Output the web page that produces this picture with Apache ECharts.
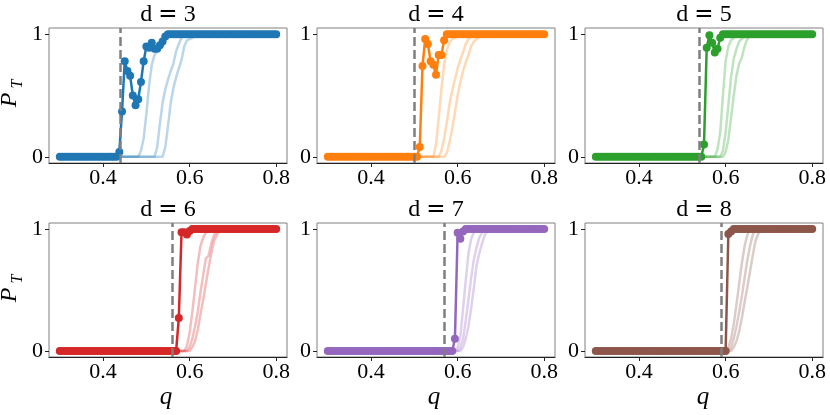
<!DOCTYPE html>
<html><head><meta charset="utf-8">
<script src="https://cdn.jsdelivr.net/npm/echarts@6/dist/echarts.min.js"></script>
<style>html,body{margin:0;padding:0;background:#fff}#c{width:830px;height:415px}</style>
</head><body><div id="c"></div>
<script>
// ---- data ----
const qGrid = [0.3,0.30625,0.3125,0.31875,0.325,0.33125,0.3375,0.34375,0.35,0.35625,
 0.3625,0.36875,0.375,0.38125,0.3875,0.39375,0.4,0.40625,0.4125,0.41875,
 0.425,0.43125,0.4375,0.44375,0.45,0.45625,0.4625,0.46875,0.475,0.48125,
 0.4875,0.49375,0.5,0.50625,0.5125,0.51875,0.525,0.53125,0.5375,0.54375,
 0.55,0.55625,0.5625,0.56875,0.575,0.58125,0.5875,0.59375,0.6,0.60625,
 0.6125,0.61875,0.625,0.63125,0.6375,0.64375,0.65,0.65625,0.6625,0.66875,
 0.675,0.68125,0.6875,0.69375,0.7,0.70625,0.7125,0.71875,0.725,0.73125,
 0.7375,0.74375,0.75,0.75625,0.7625,0.76875,0.775,0.78125,0.7875,0.79375,0.8];

const dValues = ['3','4','5','6','7','8'];
const xTicks = [0.4, 0.6, 0.8];
const yTicks = [0, 1];
const thresholds = [0.442, 0.5, 0.5365, 0.556, 0.5728, 0.5868];

const mainD3 = [0,0,0,0,0,0,0,0,0,0, 0,0,0,0,0,0,0,0,0,0,
 0,0,0.04,0.37,0.78,0.70,0.66,0.50,0.42,0.47,
 0.61,0.78,0.90,0.89,0.93,0.88,0.88,0.91,0.94,0.98,
 1,1,1,1,1,1,1,1,1,1, 1,1,1,1,1,1,1,1,1,1, 1,1,1,1,1,1,1,1,1,1, 1,1,1,1,1,1,1,1,1,1, 1];
const mainD4 = [0,0,0,0,0,0,0,0,0,0, 0,0,0,0,0,0,0,0,0,0, 0,0,0,0,0,0,0,0,0,0,
 0,0,0,0,0.08,0.74,0.96,0.92,0.78,0.75,
 0.67,0.83,0.83,0.95,1,1,1,1,1,1,
 1,1,1,1,1,1,1,1,1,1, 1,1,1,1,1,1,1,1,1,1, 1,1,1,1,1,1,1,1,1,1, 1];
const mainD5 = [0,0,0,0,0,0,0,0,0,0, 0,0,0,0,0,0,0,0,0,0, 0,0,0,0,0,0,0,0,0,0, 0,0,0,0,0,0,0,0,0,0,
 0.10,0.89,0.99,0.93,0.85,0.88,0.97,1,1,1,
 1,1,1,1,1,1,1,1,1,1, 1,1,1,1,1,1,1,1,1,1, 1,1,1,1,1,1,1,1,1,1, 1];
const mainD6 = [0,0,0,0,0,0,0,0,0,0, 0,0,0,0,0,0,0,0,0,0, 0,0,0,0,0,0,0,0,0,0, 0,0,0,0,0,0,0,0,0,0,
 0,0,0,0,0.27,0.975,0.975,0.955,0.985,1,
 1,1,1,1,1,1,1,1,1,1, 1,1,1,1,1,1,1,1,1,1, 1,1,1,1,1,1,1,1,1,1, 1];
const mainD7 = [0,0,0,0,0,0,0,0,0,0, 0,0,0,0,0,0,0,0,0,0, 0,0,0,0,0,0,0,0,0,0, 0,0,0,0,0,0,0,0,0,0,
 0,0,0,0,0,0,0,0.10,0.97,0.92,
 0.98,1,1,1,1,1,1,1,1,1, 1,1,1,1,1,1,1,1,1,1, 1,1,1,1,1,1,1,1,1,1, 1];
const mainD8 = [0,0,0,0,0,0,0,0,0,0, 0,0,0,0,0,0,0,0,0,0, 0,0,0,0,0,0,0,0,0,0, 0,0,0,0,0,0,0,0,0,0,
 0,0,0,0,0,0,0,0,0,0.96,
 0.98,1,1,1,1,1,1,1,1,1, 1,1,1,1,1,1,1,1,1,1, 1,1,1,1,1,1,1,1,1,1, 1];

const fadedD3a = [[0.3,0],[0.48125,0],[0.4875,0.05],[0.49375,0.15],[0.5,0.35],[0.50625,0.58],[0.5125,0.75],[0.51875,0.83],[0.525,0.86],[0.53125,0.89],[0.5375,0.93],[0.54375,0.96],[0.55,0.99],[0.55625,1],[0.8,1]];
const fadedD3b = [[0.3,0],[0.51875,0],[0.525,0.08],[0.53125,0.27],[0.5375,0.44],[0.54375,0.55],[0.55,0.63],[0.55625,0.70],[0.5625,0.76],[0.56875,0.86],[0.575,0.92],[0.58125,0.97],[0.5875,0.99],[0.59375,1],[0.8,1]];
const fadedD3c = [[0.3,0],[0.5375,0],[0.54375,0.08],[0.55,0.25],[0.55625,0.44],[0.5625,0.56],[0.56875,0.65],[0.575,0.72],[0.58125,0.79],[0.5875,0.90],[0.59375,0.95],[0.6,0.96],[0.60625,0.97],[0.6125,0.99],[0.61875,1],[0.8,1]];

const fadedD4a = [[0.3,0],[0.54375,0],[0.55,0.10],[0.55625,0.32],[0.5625,0.55],[0.56875,0.75],[0.575,0.87],[0.58125,0.93],[0.5875,0.96],[0.59375,0.97],[0.6,0.98],[0.60625,0.99],[0.6125,1],[0.8,1]];
const fadedD4b = [[0.3,0],[0.55625,0],[0.5625,0.05],[0.56875,0.15],[0.575,0.28],[0.58125,0.43],[0.5875,0.54],[0.59375,0.63],[0.6,0.72],[0.60625,0.79],[0.6125,0.85],[0.61875,0.92],[0.625,0.96],[0.63125,0.98],[0.6375,1],[0.8,1]];
const fadedD4c = [[0.3,0],[0.56875,0],[0.575,0.03],[0.58125,0.12],[0.5875,0.23],[0.59375,0.36],[0.6,0.50],[0.60625,0.61],[0.6125,0.70],[0.61875,0.77],[0.625,0.83],[0.63125,0.90],[0.6375,0.94],[0.64375,0.96],[0.65,0.98],[0.65625,1],[0.8,1]];

const fadedD5a = [[0.3,0],[0.575,0],[0.58125,0.06],[0.5875,0.2],[0.59375,0.5],[0.6,0.78],[0.60625,0.9],[0.6125,0.95],[0.61875,0.97],[0.625,0.99],[0.63125,1],[0.8,1]];
const fadedD5b = [[0.3,0],[0.5875,0],[0.59375,0.05],[0.6,0.2],[0.60625,0.42],[0.6125,0.65],[0.61875,0.8],[0.625,0.88],[0.63125,0.94],[0.6375,0.96],[0.64375,0.98],[0.65,1],[0.8,1]];
const fadedD5c = [[0.3,0],[0.59375,0],[0.6,0.04],[0.60625,0.14],[0.6125,0.32],[0.61875,0.5],[0.625,0.66],[0.63125,0.76],[0.6375,0.81],[0.64375,0.9],[0.65,0.96],[0.65625,0.98],[0.6625,1],[0.8,1]];

const fadedD6a = [[0.3,0],[0.5875,0],[0.59375,0.04],[0.6,0.15],[0.60625,0.32],[0.6125,0.52],[0.61875,0.72],[0.625,0.86],[0.63125,0.93],[0.6375,0.97],[0.64375,0.99],[0.65,1],[0.8,1]];
const fadedD6b = [[0.3,0],[0.59375,0],[0.6,0.03],[0.60625,0.1],[0.6125,0.2],[0.61875,0.32],[0.625,0.48],[0.63125,0.62],[0.6375,0.76],[0.64375,0.78],[0.65,0.88],[0.65625,0.95],[0.6625,0.98],[0.66875,1],[0.8,1]];
const fadedD6c = [[0.3,0],[0.6,0],[0.60625,0.03],[0.6125,0.08],[0.61875,0.17],[0.625,0.3],[0.63125,0.42],[0.6375,0.55],[0.64375,0.68],[0.65,0.8],[0.65625,0.9],[0.6625,0.95],[0.66875,0.98],[0.675,1],[0.8,1]];

const fadedD7a = [[0.3,0],[0.59375,0],[0.6,0.03],[0.60625,0.12],[0.6125,0.35],[0.61875,0.58],[0.625,0.8],[0.63125,0.92],[0.6375,0.97],[0.64375,1],[0.8,1]];
const fadedD7b = [[0.3,0],[0.6,0],[0.60625,0.03],[0.6125,0.1],[0.61875,0.25],[0.625,0.42],[0.63125,0.6],[0.6375,0.75],[0.64375,0.85],[0.65,0.93],[0.65625,0.97],[0.6625,1],[0.8,1]];
const fadedD7c = [[0.3,0],[0.60625,0],[0.6125,0.03],[0.61875,0.1],[0.625,0.2],[0.63125,0.35],[0.6375,0.52],[0.64375,0.7],[0.65,0.8],[0.65625,0.88],[0.6625,0.95],[0.66875,0.98],[0.675,1],[0.8,1]];

const fadedD8a = [[0.3,0],[0.6,0],[0.60625,0.03],[0.6125,0.1],[0.61875,0.22],[0.625,0.38],[0.63125,0.55],[0.6375,0.72],[0.64375,0.86],[0.65,0.95],[0.65625,1],[0.8,1]];
const fadedD8b = [[0.3,0],[0.60625,0],[0.6125,0.03],[0.61875,0.1],[0.625,0.2],[0.63125,0.32],[0.6375,0.45],[0.64375,0.6],[0.65,0.74],[0.65625,0.86],[0.6625,0.95],[0.66875,1],[0.8,1]];
const fadedD8c = [[0.3,0],[0.6125,0],[0.61875,0.03],[0.625,0.08],[0.63125,0.16],[0.6375,0.27],[0.64375,0.4],[0.65,0.52],[0.65625,0.65],[0.6625,0.78],[0.66875,0.9],[0.675,0.96],[0.68125,1],[0.8,1]];

// ---- chart ----
const mains = [mainD3, mainD4, mainD5, mainD6, mainD7, mainD8];
const fadeds = [[fadedD3a,fadedD3b,fadedD3c],[fadedD4a,fadedD4b,fadedD4c],[fadedD5a,fadedD5b,fadedD5c],
                [fadedD6a,fadedD6b,fadedD6c],[fadedD7a,fadedD7b,fadedD7c],[fadedD8a,fadedD8b,fadedD8c]];
const colors = ['#1f77b4','#ff7f0e','#2ca02c','#d62728','#9467bd','#8c564b'];
const fadedColors = ['rgba(31,119,180,0.3)','rgba(255,127,14,0.3)','rgba(44,160,44,0.3)',
                     'rgba(214,39,40,0.3)','rgba(148,103,189,0.3)','rgba(140,86,75,0.3)'];
const gridPos = [[49,28,238,135],[317,28,238,135],[585,28,238,135],
                 [49,223,238,134],[317,223,238,134],[585,223,238,134]];
const serif = 'Liberation Serif';

const grid = [], xAxis = [], yAxis = [], series = [], graphic = [];
for (let i = 0; i < 6; i++) {
  const [l, t, w, h] = gridPos[i];
  grid.push({left: l, top: t, width: w, height: h, show: true, borderColor: '#808080', borderWidth: 1, backgroundColor: 'transparent'});
  xAxis.push({type: 'value', gridIndex: i, min: 0.275, max: 0.825,
    axisLine: {show: true, onZero: false, lineStyle: {color: '#222', width: 1}},
    axisTick: {show: true, customValues: xTicks, length: 4, lineStyle: {color: '#222'}},
    axisLabel: {customValues: xTicks, fontFamily: serif, fontSize: 22, color: '#000', margin: 4,
      formatter: v => v.toFixed(1)},
    splitLine: {show: false}});
  yAxis.push({type: 'value', gridIndex: i, min: -0.05, max: 1.05,
    axisLine: {show: false},
    axisTick: {show: true, customValues: yTicks, length: 4, lineStyle: {color: '#222'}},
    axisLabel: {customValues: yTicks, fontFamily: serif, fontSize: 22, color: '#000', margin: 6,
      formatter: v => String(v)},
    splitLine: {show: false}});
  fadeds[i].forEach((arr, j) => {
    series.push({type: 'line', xAxisIndex: i, yAxisIndex: i, data: arr, showSymbol: false, symbol: 'none',
      lineStyle: {color: fadedColors[i], width: 2.5}, z: 1, animation: false, silent: true,
      markLine: j === 2 ? {silent: true, symbol: 'none', label: {show: false},
        lineStyle: {color: '#7f7f7f', width: 2.5, type: [9, 4]}, data: [{xAxis: thresholds[i]}], animation: false} : undefined});
  });
  series.push({type: 'line', xAxisIndex: i, yAxisIndex: i,
    data: qGrid.map((q, k) => [q, mains[i][k]]),
    symbol: 'circle', symbolSize: 8, showSymbol: true, showAllSymbol: true,
    itemStyle: {color: colors[i]}, lineStyle: {color: colors[i], width: 2.5}, z: 3, animation: false, silent: true});
  graphic.push({type: 'text', x: l + w / 2, y: t - 13,
    style: {text: '{a|d }{e|=}{a| ' + dValues[i] + '}',
      rich: {a: {fontFamily: serif, fontSize: 24, lineHeight: 26, fill: '#000'},
             e: {fontFamily: 'DejaVu Sans', fontSize: 23, lineHeight: 26, fill: '#000'}},
      align: 'center', verticalAlign: 'middle'}});
}
// y-axis labels P_T
[[100, 84], [295, 279]].forEach(([yp, yt]) => {
  graphic.push({type: 'text', x: 10, y: yp, rotation: Math.PI / 2,
    style: {text: 'P', fontFamily: serif, fontStyle: 'italic', fontSize: 24, fill: '#000', align: 'center', verticalAlign: 'middle'}});
  graphic.push({type: 'text', x: 18, y: yt, rotation: Math.PI / 2,
    style: {text: 'T', fontFamily: serif, fontStyle: 'italic', fontSize: 16, fill: '#000', align: 'center', verticalAlign: 'middle'}});
});
// x-axis labels q
[166, 434, 703].forEach(x => {
  graphic.push({type: 'text', x: x, y: 397,
    style: {text: 'q', fontFamily: serif, fontStyle: 'italic', fontSize: 25, fill: '#000', align: 'center', verticalAlign: 'middle'}});
});

const chart = echarts.init(document.getElementById('c'), null, {renderer: 'canvas'});
chart.setOption({animation: false, backgroundColor: '#fff', grid, xAxis, yAxis, series, graphic});
</script></body></html>
